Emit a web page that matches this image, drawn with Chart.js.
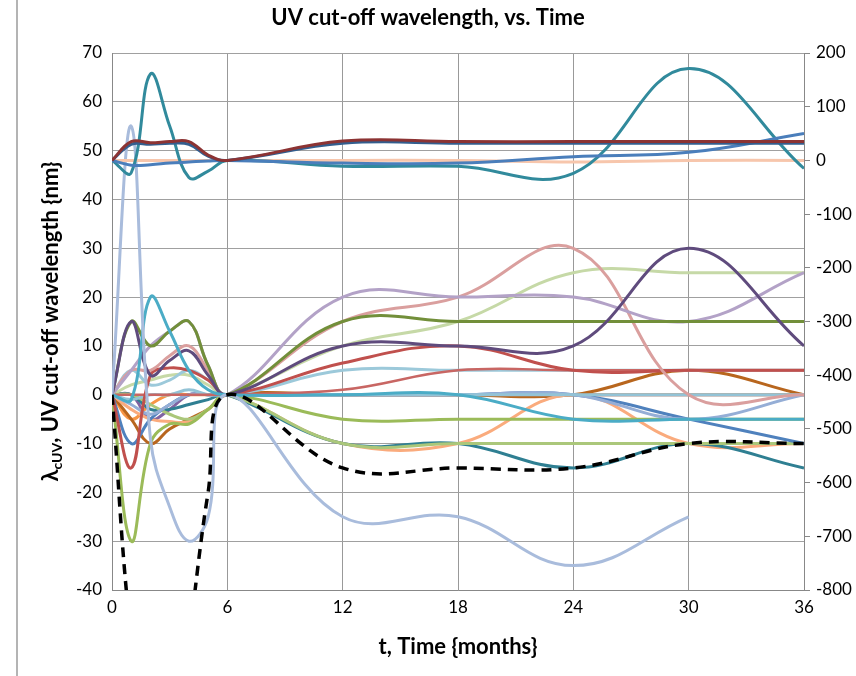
<!DOCTYPE html>
<html><head><meta charset="utf-8">
<script src="https://cdn.jsdelivr.net/npm/chart.js@4"></script>
<style>html,body{margin:0;padding:0;background:#fff}#wrap{width:856px;height:676px;position:relative}</style>
</head><body><div id="wrap"><canvas id="c" width="856" height="676"></canvas></div>
<script>
// ---- data ----
const months = [0, 1, 2, 3, 4, 5, 6, 12, 18, 24, 30, 36];
const xTicks = [0, 6, 12, 18, 24, 30, 36];
const leftTicks = [-40, -30, -20, -10, 0, 10, 20, 30, 40, 50, 60, 70];
const rightTicks = [-800, -700, -600, -500, -400, -300, -200, -100, 0, 100, 200];

// left-axis series (nm)
const paleBlue     = [0, 55, -9, -23, -30, -25, 0, -25, -25, -35, -25, null];
const cyan         = [0, -1, 20, 13, 5, 1, 0, 0, 0, -5, -5, -5];
const darkPurple   = [0, 15, 4, 7, 9, 4, 0, 10, 10, 10, 30, 10];
const olive        = [0, 15, 10, 13, 15, 6, 0, 15, 15, 15, 15, 15];
const lavender     = [0, 5, 10, 13, 15, 6, 0, 20, 20, 20, 15, 25];
const dustyRose    = [0, 5, 5, 8, 10, 5, 0, 15, 20, 30, 0, 0];
const red          = [0, -15, 4, 5.5, 5, 3, 0, 6.5, 10, 5, 5, 5];
const red2         = [0, 0, 0, 0, 0, 0, 0, 1, 5, 5, 5, 5];
const lightBlue    = [0, 5, 2, 3, 5, 3, 0, 5, 5, 5, 5, 5];
const lightBlue0   = [0, -1, 0, 0, 1, 0, 0, 0, 0, 0, 0, 0];
const periwinkle   = [0, -2, -4, -2, 0, 0, 0, 0, 0, 0, -5, 0];
const blue         = [0, -10, -5, -2, 0, 0, 0, 0, 0, 0, -5, -10];
const yellowGreen  = [0, -30, -10, -6, -6, -3, 0, -5, -5, -5, -5, -5];
const paleOlive    = [0, 0, -2, -4, -5, -3, 0, -10, -10, -10, -10, -10];
const lightGreen   = [0, 2, 3, 4, 4, 2, 0, 10, 15, 25, 25, 25];
const darkTeal     = [0, 0, -3, -3, -2, -1, 0, -10, -10, -15, -10, -15];
const lightOrange  = [0, -3, -5, -5.5, -5.5, -3, 0, -10, -10, 0, -10, -10];
const brown        = [0, -5, -10, -7, -5, -3, 0, 0, 0, 0, 5, 0];
const orange       = [0, -5, -2, 0, 0, 0, 0, 0, 0, 0, 0, 0];
const mediumPurple = [0, 0, -5, -3, 0, 0, 0, 0, 0, 0, 0, 0];
const dashedBlack  = [0, -50, -72, -78, -50, -20, 0, -15, -15, -15, -10, -10];

// right-axis series
const maroon       = [0, 35, 33, 35, 35, 10, 0, 36, 35, 35, 35, 35];
const darkBlue     = [0, 30, 30, 32, 30, 8, 0, 32, 32, 32, 32, 32];
const mediumBlue   = [0, -9, -8, -5, -3, -1, 0, -5, -5, 7, 15, 50];
const teal         = [0, -23, 161, 64, -32, -20, 0, -11, -11, -24, 171, -15];
const peach        = [0, 0, 0, 0, 0, 0, 0, 0, 0, -3, 0, 0];

// ---- build ----
function pts(arr){ return months.map((m,i)=>({x:m,y:arr[i]})).filter(p=>p.y!==null); }
function ds(arr, color, axis, extra){
  return Object.assign({data: pts(arr), borderColor: color, yAxisID: axis, borderWidth: 3,
    pointRadius: 0, fill: false, tension: 0.4}, extra||{});
}
const datasets = [
  ds(dashedBlack, '#000000', 'y', {borderDash:[10,7], borderWidth:3.5}),
  ds(maroon, '#8C3333', 'y2'),
  ds(darkBlue, '#335E8E', 'y2'),
  ds(mediumBlue, '#4A7EBB', 'y2'),
  ds(teal, '#318A9C', 'y2'),
  ds(peach, '#F7C6AC', 'y2'),
  ds(paleBlue, '#A9BCDC', 'y'),
  ds(cyan, '#4BACC6', 'y'),
  ds(darkPurple, '#5F4B7D', 'y'),
  ds(olive, '#728F3A', 'y'),
  ds(lavender, '#B3A2C7', 'y'),
  ds(dustyRose, '#DA9F9E', 'y'),
  ds(red, '#C0504D', 'y'),
  ds(red2, '#C86663', 'y', {borderWidth:2.5}),
  ds(lightBlue, '#9CC9DA', 'y'),
  ds(lightBlue0, '#93C3D6', 'y'),
  ds(periwinkle, '#95AED6', 'y'),
  ds(blue, '#4F81BD', 'y'),
  ds(yellowGreen, '#9BBB59', 'y'),
  ds(paleOlive, '#ABC77A', 'y'),
  ds(lightGreen, '#C6D9A7', 'y'),
  ds(darkTeal, '#2F7F92', 'y'),
  ds(lightOrange, '#FAAB7D', 'y'),
  ds(brown, '#B8661E', 'y'),
  ds(orange, '#F79646', 'y'),
  ds(mediumPurple, '#8064A2', 'y'),
];

const FONT = "Lato, 'Open Sans', 'DejaVu Sans', sans-serif";

const decor = {
  id: 'decor',
  beforeDraw(chart){
    const ctx = chart.ctx;
    ctx.save();
    ctx.fillStyle = '#ffffff';
    ctx.fillRect(0,0,chart.width,chart.height);
    ctx.strokeStyle = '#b4b4b4';
    ctx.lineWidth = 2;
    ctx.beginPath(); ctx.moveTo(17,0); ctx.lineTo(17,chart.height); ctx.stroke();
    ctx.restore();
  },
  afterDraw(chart){
    const ctx = chart.ctx;
    const a = chart.chartArea;
    const cy = (a.top + a.bottom)/2;
    ctx.save();
    ctx.translate(51, cy);
    ctx.rotate(-Math.PI/2);
    ctx.fillStyle = '#000';
    ctx.textBaseline = 'middle';
    const big = "bold 22px " + FONT, small = "bold 14px " + FONT;
    const p1 = 'λ', p2 = 'cUV', p3 = ', UV cut-off wavelength {nm}';
    ctx.font = big; const w1 = ctx.measureText(p1).width, w3 = ctx.measureText(p3).width;
    ctx.font = small; const w2 = ctx.measureText(p2).width;
    let x = -(w1+w2+w3)/2;
    ctx.font = big; ctx.textAlign='left'; ctx.fillText(p1, x, 0); x += w1;
    ctx.font = small; ctx.fillText(p2, x, 6); x += w2;
    ctx.font = big; ctx.fillText(p3, x, 0);
    ctx.restore();
  }
};

new Chart(document.getElementById('c'), {
  type: 'line',
  data: { datasets },
  options: {
    responsive: false, animation: false, devicePixelRatio: 1,
    layout: { padding: 0 },
    elements: { line: { capBezierPoints: false } },
    plugins: {
      legend: { display: false }, tooltip: { enabled: false },
      title: { display: true, text: 'UV cut-off wavelength, vs. Time', color: '#000',
        font: { family: FONT, size: 22, weight: 'bold' }, padding: { top: 5, bottom: 21.6 } }
    },
    scales: {
      x: {
        type: 'linear', min: 0, max: 36,
        afterBuildTicks(s){ s.ticks = xTicks.map(v=>({value:v})); },
        afterFit(s){ s.height = 86; },
        grid: { color: '#999999', drawTicks: false },
        border: { color: '#888888' },
        ticks: { color: '#000', font: { family: FONT, size: 17 }, padding: 7, maxRotation: 0 },
        title: { display: true, text: 't, Time {months}', color: '#000',
          font: { family: FONT, size: 22, weight: 'bold' }, padding: { top: 0, bottom: 15.8 } }
      },
      y: {
        position: 'left', min: -40, max: 70,
        afterBuildTicks(s){ s.ticks = leftTicks.map(v=>({value:v})); },
        afterFit(s){ s.width = 112; },
        grid: { color: '#a0a0a0', drawTicks: false },
        border: { color: '#888888' },
        ticks: { color: '#000', font: { family: FONT, size: 17 }, padding: 10 }
      },
      y2: {
        position: 'right', min: -800, max: 200,
        afterBuildTicks(s){ s.ticks = rightTicks.map(v=>({value:v})); },
        afterFit(s){ s.width = 52; },
        grid: { drawOnChartArea: false, color: '#888888', tickLength: 6 },
        border: { color: '#888888' },
        ticks: { color: '#000', font: { family: FONT, size: 17 }, padding: 6 }
      }
    }
  },
  plugins: [decor]
});
</script></body></html>
